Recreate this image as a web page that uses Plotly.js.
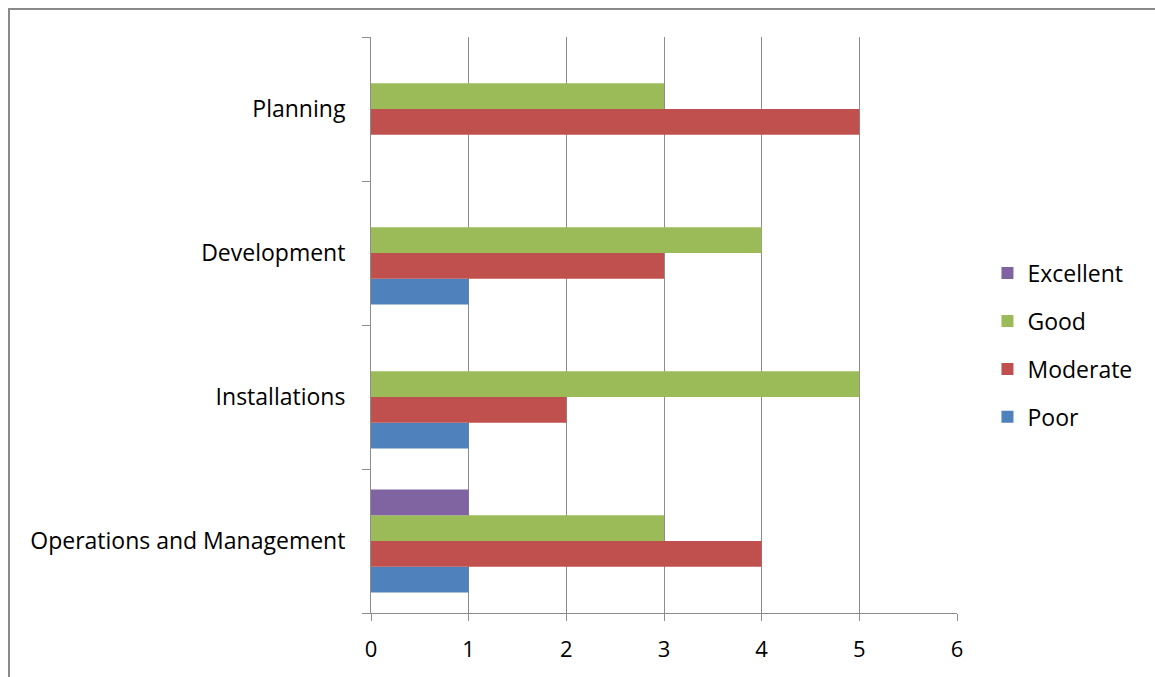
<!DOCTYPE html>
<html><head><meta charset="utf-8">
<script src="https://cdn.plot.ly/plotly-3.0.1.min.js"></script>
<style>
html,body{margin:0;padding:0;background:#fff;overflow:hidden;}
#frame{position:absolute;left:8px;top:8px;width:1170px;height:700px;border:2px solid #8a8a8a;box-sizing:border-box;pointer-events:none;z-index:2;}
#chart{position:absolute;left:0;top:0;width:1155px;height:677px;}
</style></head>
<body>
<div id="chart"></div>
<div id="frame"></div>
<script>
const categories = ["Operations and Management", "Installations", "Development", "Planning"];
const seriesNames = ["Poor", "Moderate", "Good", "Excellent"];
const poor = [1, 1, 1, 0];
const moderate = [4, 2, 3, 5];
const good = [3, 5, 4, 3];
const excellent = [1, 0, 0, 0];
const colors = ["#4f81bd", "#c0504d", "#9bbb59", "#8064a2"];
const xTicks = [0, 1, 2, 3, 4, 5, 6];

const values = [poor, moderate, good, excellent];
const traces = values.map((v, i) => ({
  type: "bar", orientation: "h",
  name: seriesNames[i], y: categories, x: v,
  marker: {color: colors[i], line: {width: 0}},
  legendgroup: seriesNames[i],
  legendrank: 1000 - i
}));

const fontFam = "Open Sans, Noto Sans, sans-serif";
const layout = {
  width: 1155, height: 677,
  margin: {l: 371, r: 198, t: 37, b: 64},
  paper_bgcolor: "#ffffff", plot_bgcolor: "#ffffff",
  barmode: "group", bargap: 0.285, bargroupgap: 0,
  font: {family: fontFam, size: 22, color: "#000"},
  xaxis: {
    range: [0, 6], tickvals: xTicks, ticktext: xTicks.map(String),
    showgrid: true, gridcolor: "#8c8c8c", gridwidth: 1,
    showline: true, linecolor: "#8c8c8c", linewidth: 1,
    ticks: "outside", ticklen: 7, tickcolor: "#8c8c8c",
    ticklabelstandoff: 10, zeroline: false, fixedrange: true,
    tickfont: {family: fontFam, size: 22, color: "#000"}
  },
  yaxis: {
    type: "category", categoryorder: "array", categoryarray: categories,
    showline: true, linecolor: "#8c8c8c", linewidth: 1,
    ticks: "outside", ticklen: 8, tickcolor: "#8c8c8c", tickson: "boundaries",
    showgrid: false, ticklabelstandoff: 20, fixedrange: true,
    tickfont: {family: fontFam, size: 23, color: "#000"}
  },
  legend: {
    x: 1.052, xanchor: "left", y: 0.465, yanchor: "middle",
    traceorder: "grouped", tracegroupgap: 15,
    font: {family: fontFam, size: 23, color: "#000"},
    bgcolor: "rgba(0,0,0,0)", itemwidth: 30
  },
  showlegend: true
};

Plotly.newPlot("chart", traces, layout, {displayModeBar: false, staticPlot: true});
</script>
</body></html>
